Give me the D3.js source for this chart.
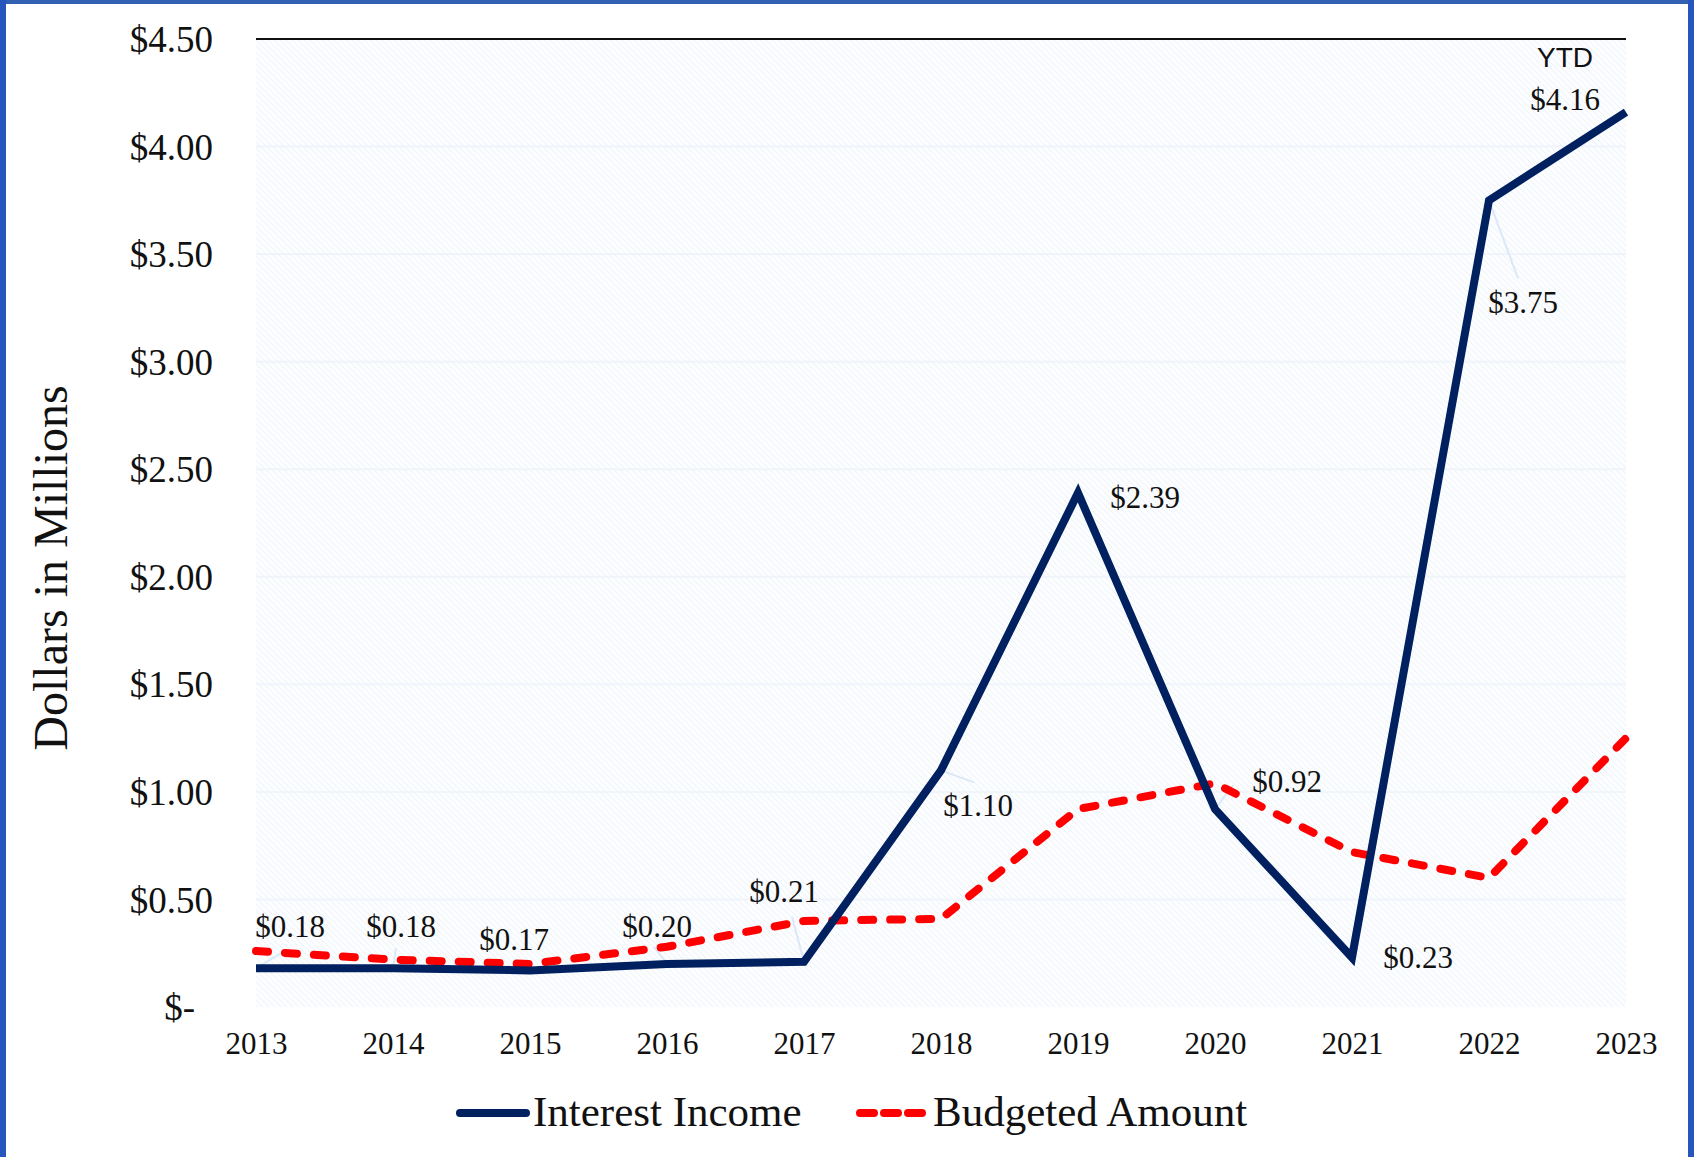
<!DOCTYPE html>
<html>
<head>
<meta charset="utf-8">
<script src="https://cdn.jsdelivr.net/npm/d3@7"></script>
<style>
  html, body { margin: 0; padding: 0; background: #fff; }
  svg { display: block; }
</style>
</head>
<body>
<div id="chart"></div>
<script>
// Werte (Millionen $)
const years = ["2013", "2014", "2015", "2016", "2017", "2018", "2019", "2020", "2021", "2022", "2023"];
const interestIncome = [0.18, 0.18, 0.17, 0.20, 0.21, 1.10, 2.39, 0.92, 0.23, 3.75, 4.16];
const budgetedAmount = [0.26, 0.22, 0.20, 0.28, 0.40, 0.41, 0.92, 1.04, 0.72, 0.60, 1.25];
const yTicks = [0, 0.5, 1, 1.5, 2, 2.5, 3, 3.5, 4, 4.5];

// Label-Versatz zum Punkt (Mitte, Grundlinie) und Führungslinien
const labelOffsets = [[34, -31], [8, -31], [-16, -20], [-10, -27], [-20, -60],
    [37, 46], [67, 15], [72, -17], [66, 10], [34, 113], [-61, -2]];
const leaderEnds = [[28, -17], [3, -20], null, [-13, -17], [-12, -45],
    [33, 12], null, [18, -24], null, [29, 78], null];

const width = 1694, height = 1157;
const margin = { left: 256, right: 1626, top: 39, bottom: 1007 };

const svg = d3.select("#chart").append("svg")
    .attr("width", width)
    .attr("height", height);

// Rahmen
svg.append("rect").attr("x", 0).attr("y", 0).attr("width", width).attr("height", height).attr("fill", "#fff");
svg.append("rect").attr("x", 0).attr("y", 0).attr("width", width).attr("height", 4).attr("fill", "#3261b4");
svg.append("rect").attr("x", 0).attr("y", 0).attr("width", 6).attr("height", height).attr("fill", "#2655bd");
svg.append("rect").attr("x", width - 6).attr("y", 0).attr("width", 6).attr("height", height).attr("fill", "#2655bd");

const x = d3.scalePoint().domain(years).range([margin.left, margin.right]);
const y = d3.scaleLinear().domain([0, 4.5]).range([margin.bottom, margin.top]);

// Schraffur im Plotbereich
const defs = svg.append("defs");
const pat = defs.append("pattern")
    .attr("id", "hatch")
    .attr("patternUnits", "userSpaceOnUse")
    .attr("width", 6).attr("height", 6);
pat.append("rect").attr("width", 6).attr("height", 6).attr("fill", "#fcfdff");
pat.append("path").attr("d", "M0,0L6,6M-1,5L1,7M5,-1L7,1")
    .attr("stroke", "#eef2f8").attr("stroke-width", 1);

svg.append("rect")
    .attr("x", margin.left).attr("y", margin.top)
    .attr("width", margin.right - margin.left)
    .attr("height", margin.bottom - margin.top)
    .attr("fill", "url(#hatch)");

// Gitterlinien
svg.append("g").selectAll("line")
    .data(yTicks.slice(1, -1))
    .join("line")
    .attr("x1", margin.left).attr("x2", margin.right)
    .attr("y1", d => y(d)).attr("y2", d => y(d))
    .attr("stroke", "#f0f4fb").attr("stroke-width", 2);

// obere Linie
svg.append("line")
    .attr("x1", margin.left).attr("x2", margin.right)
    .attr("y1", y(4.5)).attr("y2", y(4.5))
    .attr("stroke", "#111").attr("stroke-width", 2);

// Y-Achse
const yAxis = svg.append("g")
    .attr("transform", `translate(${margin.left - 43},0)`)
    .call(d3.axisLeft(y).tickValues(yTicks).tickSize(0).tickPadding(0)
        .tickFormat(d => d === 0 ? "$-" : "$" + d3.format(".2f")(d)));
yAxis.select(".domain").remove();
yAxis.selectAll("text")
    .attr("font-family", "'Liberation Serif', 'Times New Roman', serif")
    .attr("font-size", 37)
    .attr("fill", "#111")
    .attr("dy", "0.34em")
    .attr("dx", d => d === 0 ? -18 : 0);

// X-Achse
const xAxis = svg.append("g")
    .attr("transform", `translate(0,${margin.bottom})`)
    .call(d3.axisBottom(x).tickSize(0).tickPadding(0));
xAxis.select(".domain").remove();
xAxis.selectAll("text")
    .attr("font-family", "'Liberation Serif', 'Times New Roman', serif")
    .attr("font-size", 31)
    .attr("fill", "#111")
    .attr("y", 47)
    .attr("dy", 0);

// Achsentitel
svg.append("text")
    .attr("transform", `translate(67,${(margin.top + margin.bottom) / 2 + 45}) rotate(-90)`)
    .attr("text-anchor", "middle")
    .attr("font-family", "'Liberation Serif', 'Times New Roman', serif")
    .attr("font-size", 48)
    .attr("fill", "#111")
    .text("Dollars in Millions");

// Führungslinien
svg.append("g").selectAll("line")
    .data(years.map((yr, i) => ({ yr, v: interestIncome[i], end: leaderEnds[i] })).filter(d => d.end))
    .join("line")
    .attr("x1", d => x(d.yr)).attr("y1", d => y(d.v))
    .attr("x2", d => x(d.yr) + d.end[0]).attr("y2", d => y(d.v) + d.end[1])
    .attr("stroke", "#dbe8f7").attr("stroke-width", 2);

// Linien
const line = (vals) => d3.line()
    .x((d, i) => x(years[i]))
    .y(d => y(d))(vals);

svg.append("path")
    .attr("d", line(budgetedAmount))
    .attr("fill", "none")
    .attr("stroke", "#ff0000")
    .attr("stroke-width", 8)
    .attr("stroke-linecap", "round")
    .attr("stroke-linejoin", "round")
    .attr("stroke-dasharray", "12,17");

svg.append("path")
    .attr("d", line(interestIncome))
    .attr("fill", "none")
    .attr("stroke", "#002060")
    .attr("stroke-width", 8)
    .attr("stroke-linejoin", "miter");

// Datenbeschriftungen
svg.append("g").selectAll("text")
    .data(interestIncome)
    .join("text")
    .attr("x", (d, i) => x(years[i]) + labelOffsets[i][0])
    .attr("y", (d, i) => y(d) + labelOffsets[i][1])
    .attr("text-anchor", "middle")
    .attr("font-family", "'Liberation Serif', 'Times New Roman', serif")
    .attr("font-size", 31)
    .attr("fill", "#111")
    .text(d => "$" + d3.format(".2f")(d));

svg.append("text")
    .attr("x", x("2023") - 61)
    .attr("y", 67)
    .attr("text-anchor", "middle")
    .attr("font-family", "'Liberation Sans', Arial, sans-serif")
    .attr("font-size", 28)
    .attr("fill", "#111")
    .text("YTD");

// Legende
const legend = svg.append("g");
const legendItems = [
    { name: "Interest Income", color: "#002060", dash: null, x0: 456 },
    { name: "Budgeted Amount", color: "#ff0000", dash: "12,17", x0: 856 }
];
legendItems.forEach(item => {
    legend.append("line")
        .attr("x1", item.x0 + 4).attr("x2", item.x0 + 70)
        .attr("y1", 1113).attr("y2", 1113)
        .attr("stroke", item.color)
        .attr("stroke-width", 8)
        .attr("stroke-linecap", "round")
        .attr("stroke-dasharray", item.dash ? "14,10" : null);
    legend.append("text")
        .attr("x", item.x0 + 77)
        .attr("y", 1126)
        .attr("font-family", "'Liberation Serif', 'Times New Roman', serif")
        .attr("font-size", 43)
        .attr("fill", "#111")
        .text(item.name);
});
</script>
</body>
</html>
